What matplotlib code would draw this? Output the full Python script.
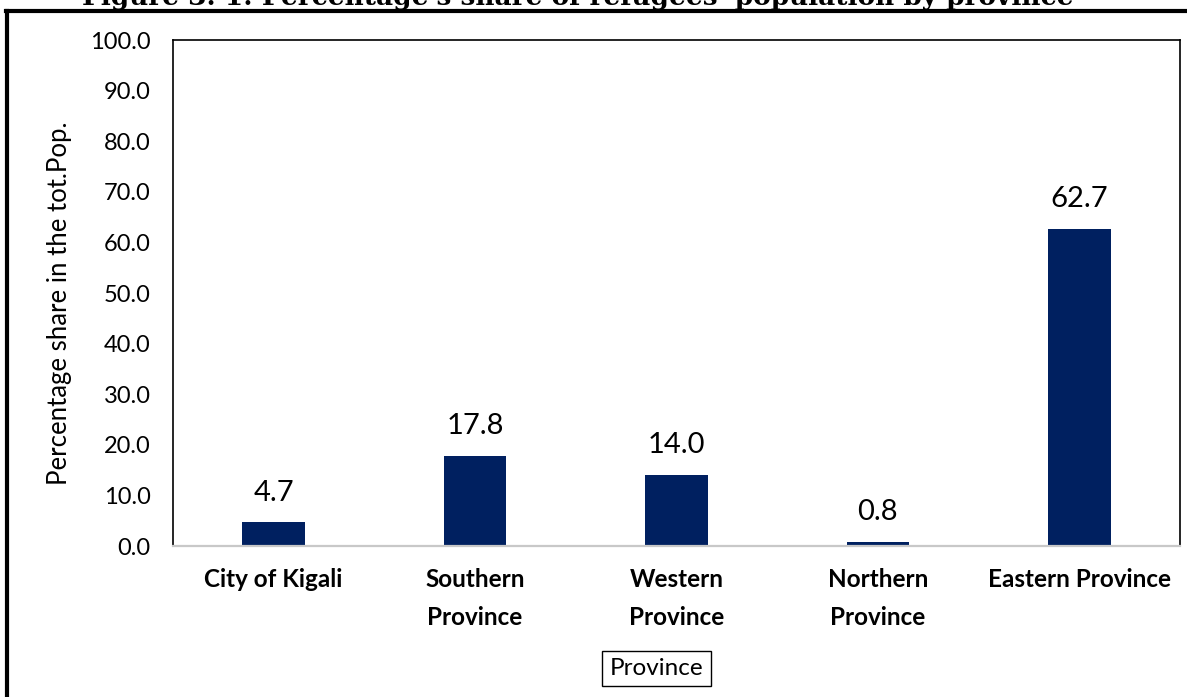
import matplotlib

matplotlib.use("Agg")
import matplotlib.pyplot as plt
from matplotlib.lines import Line2D

provinces = ["City of Kigali", "Southern\nProvince", "Western\nProvince",
             "Northern\nProvince", "Eastern Province"]
share = [4.7, 17.8, 14.0, 0.8, 62.7]
yticks = [0, 10, 20, 30, 40, 50, 60, 70, 80, 90, 100]

plt.rcParams["font.family"] = ["Lato", "DejaVu Sans"]

fig = plt.figure(figsize=(11.87, 6.97), dpi=100)
ax = fig.add_axes([0.1457, 0.2166, 0.8484, 0.726])

x = range(len(provinces))
bars = ax.bar(x, share, width=0.31, color="#002060")
for b, v in zip(bars, share):
    ax.text(b.get_x() + b.get_width() / 2, v + 3.3, f"{v:.1f}",
            ha="center", va="bottom", fontsize=21)

ax.set_xlim(-0.5, len(provinces) - 0.5)
ax.set_ylim(0, 100)
ax.set_yticks(yticks)
ax.set_yticklabels([f"{t:.1f}" for t in yticks], fontsize=17)
ax.set_xticks(list(x))
ax.set_xticklabels(provinces, fontsize=17.5, fontweight="bold", linespacing=1.75)
ax.tick_params(length=0, pad=16)
ax.tick_params(axis="x", pad=16)
for s in ax.spines.values():
    s.set_linewidth(1.2)
    s.set_color("black")
ax.spines["bottom"].set_color("#c8c8c8")
ax.spines["bottom"].set_linewidth(1.6)

ax.set_ylabel("Percentage share in the tot.Pop.", fontsize=18.5, labelpad=9)
ax.yaxis.set_label_coords(-0.1, 0.48)
fig.text(0.553, 0.041, "Province", ha="center", va="center", fontsize=17.5,
         bbox=dict(boxstyle="square,pad=0.3", facecolor="white",
                   edgecolor="black", linewidth=1.0))

# partially cut-off figure caption and outer frame
fig.text(0.487, 1.004, "Figure 3. 1: Percentage's share of refugees' population by province",
         ha="center", va="center", fontsize=19, fontweight="bold",
         family=["DejaVu Serif"])
fig.add_artist(Line2D([0.005, 1.0], [0.984, 0.984], color="black", linewidth=3,
                      transform=fig.transFigure))
fig.add_artist(Line2D([0.0055, 0.0055], [0.0, 0.984], color="black", linewidth=3,
                      transform=fig.transFigure))

fig.savefig("out.png", dpi=100)
plt.close(fig)
